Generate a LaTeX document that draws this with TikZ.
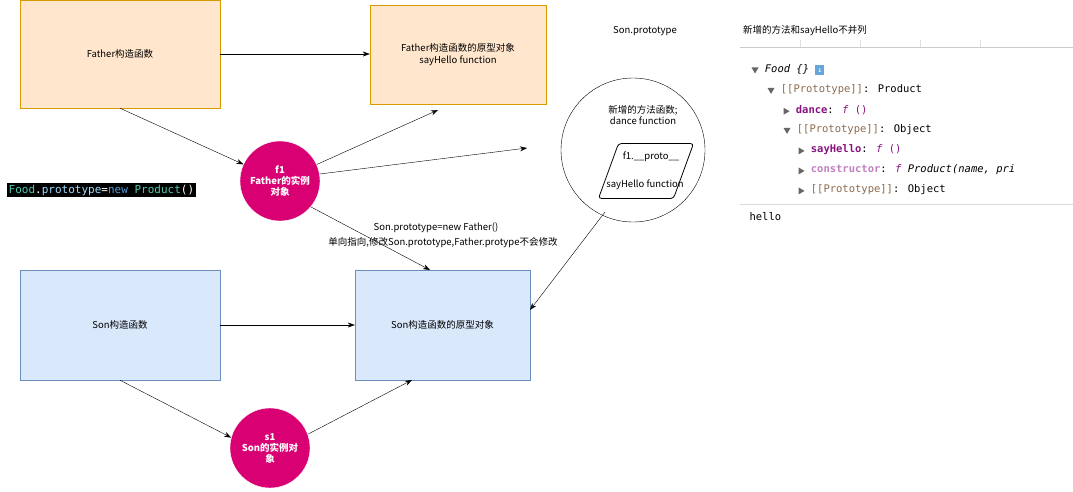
\documentclass[tikz,border=0pt]{standalone}
\usepackage{fontspec}
\setmainfont{Noto Sans CJK SC}
\newfontfamily\codefont{DejaVu Sans Mono}
\usetikzlibrary{arrows.meta,shapes.geometric}
\definecolor{orfill}{HTML}{FFE6CC}
\definecolor{ordraw}{HTML}{D79B00}
\definecolor{blfill}{HTML}{DAE8FC}
\definecolor{bldraw}{HTML}{6C8EBF}
\definecolor{inst}{HTML}{D80073}
\definecolor{ctkey}{HTML}{881280}
\definecolor{ctcon}{HTML}{C080C0}
\definecolor{ctgray}{HTML}{8A6A50}
\definecolor{cdteal}{HTML}{4EC9B0}
\definecolor{cdblue}{HTML}{9CDCFE}
\definecolor{cdnew}{HTML}{569CD6}
\newcommand\tdn{\tikz[baseline=-1pt]\fill[gray!80!black] (0,4pt) -- (7pt,4pt) -- (3.5pt,-2pt) -- cycle;}
\newcommand\trt{\tikz[baseline=-1pt]\fill[gray!80!black] (0,-2.5pt) -- (0,4.5pt) -- (6pt,1pt) -- cycle;}
\begin{document}
\begin{tikzpicture}[x=1pt,y=-1pt,
font=\fontsize{9.5}{11.5}\selectfont,
father/.style={draw=ordraw, fill=orfill, align=center},
son/.style={draw=bldraw, fill=blfill, align=center},
obj/.style={circle, draw=white, fill=inst, text=white, font=\fontsize{9.5}{11}\selectfont\bfseries, align=center, minimum size=80pt, inner sep=0pt},
arr/.style={-{Stealth[length=7pt,width=5pt]}, black},
dev/.style={anchor=west, font=\codefont\fontsize{10.5}{12}\selectfont}
]
\useasboundingbox (0,0) rectangle (1073,491);

%%% boxes
\node[father, minimum width=200pt, minimum height=108pt] (F) at (120,54) {Father构造函数};
\node[father, minimum width=176pt, minimum height=99pt] (FP) at (458,54.5) {Father构造函数的原型对象\\sayHello function};
\node[son, minimum width=200pt, minimum height=110pt] (S) at (120,325) {Son构造函数};
\node[son, minimum width=175pt, minimum height=110pt] (SP) at (442.5,325) {Son构造函数的原型对象};

%%% instances
\node[obj] (f1) at (280,181) {f1\\Father的实例\\对象};
\node[obj] (s1) at (270,448) {s1\\Son的实例对\\象};

%%% Son.prototype circle
\node[circle, draw, minimum size=144pt] (SC) at (633,150) {};
\node[align=center] (SCt) at (643,115) {新增的方法函数;\\dance function};
\node[trapezium, trapezium left angle=70, trapezium right angle=110, draw, thick, rounded corners=3pt, minimum width=76pt, minimum height=55pt] (par) at (646,171) {};
\node (par1) at (651,157) {f1.\_\_proto\_\_};
\node (par2) at (645,185) {sayHello function};
\node (SCl) at (645,31) {Son.prototype};
\node (nt) at (805,31) {新增的方法和sayHello不并列};

%%% code snippet
\node[fill=black, anchor=west, inner sep=1.5pt, font=\codefont\fontsize{11}{13}\selectfont] (code) at (7,190)
 {\textcolor{cdteal}{Food}\textcolor{white}{.}\textcolor{cdblue}{prototype}\textcolor{white}{=}\textcolor{cdnew}{new} \textcolor{cdteal}{Product}\textcolor{white}{()}};

%%% connectors
\coordinate (fa) at (438,110);
\coordinate (fb) at (527,148);
\draw[arr] (F.east) -- (FP.west |- F.east);
\draw[arr] (F.south) -- (f1);
\draw[arr] (f1) -- (fa);
\draw[arr] (f1.10) -- (fb);
\draw[arr] (f1.-40) -- (430,270);
\node (lb1) at (436,228) {Son.prototype=new Father()};
\node (lb2) at (443,243) {单向指向,修改Son.prototype,Father.protype不会修改};
\draw[arr] (S.east) -- (SP.west |- S.east);
\draw[arr] (S.south) -- (s1.165);
\draw[arr] (s1.20) -- (412,380);
\draw[arr] (605,212) -- (530,310);

%%% devtools
\draw[gray!40] (740,47) -- (1073,47);
\foreach \x in {800,860,920,980}{\draw[gray!25] (\x,40) -- (\x,47);}
\draw[gray!30] (740,204) -- (1073,204);
\node[dev] (d1) at (748,70) {\tdn\ \textit{Food \{\}} \textcolor{white}{\colorbox{cdnew!90}{\tiny\bfseries i}}};
\node[dev] (d2) at (764,90) {\tdn\ \textcolor{ctgray}{[[Prototype]]}: Product};
\node[dev] (d3) at (780,110) {\trt\ \textcolor{ctkey}{\bfseries dance}: \textcolor{ctkey}{\textit{f} ()}};
\node[dev] (d4) at (780,130) {\tdn\ \textcolor{ctgray}{[[Prototype]]}: Object};
\node[dev] (d5) at (795,150) {\trt\ \textcolor{ctkey}{\bfseries sayHello}: \textcolor{ctkey}{\textit{f} ()}};
\node[dev] (d6) at (795,170) {\trt\ \textcolor{ctcon}{\bfseries constructor}: \textit{\textcolor{ctkey}{f} Product(name, pri}};
\node[dev] (d7) at (795,190) {\trt\ \textcolor{ctgray}{[[Prototype]]}: Object};
\begin{scope}
\clip (740,205) rectangle (1073,222);
\node[dev] (d8) at (746,217) {hello};
\end{scope}
\end{tikzpicture}
\end{document}
